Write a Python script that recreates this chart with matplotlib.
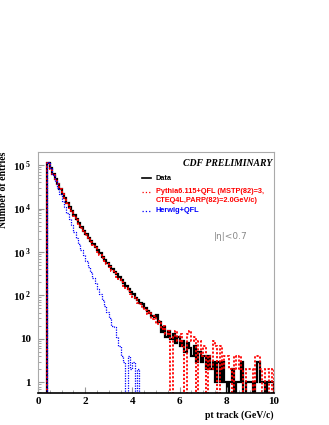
import numpy as np
import matplotlib
matplotlib.use("Agg")
import matplotlib.pyplot as plt
from matplotlib.lines import Line2D

# histogram binning (GeV/c)
pt_start = 0.4
bin_width = 0.1

# Data, bins from 0.4 to 10.0
data_counts = [112000, 84100, 63500, 48300, 37000, 28500, 22100, 17300, 13600, 10800,
               8610, 6920, 5600, 4560, 3740, 3090, 2570, 2150, 1800, 1520,
               1290, 1090, 925, 785, 668, 569, 485, 414, 354, 303,
               259, 222, 191, 164, 141, 122, 105, 89, 80, 66,
               62, 50, 44, 40, 33, 31, 35, 25, 14, 19,
               11, 15, 10, 13, 8, 11, 7, 9, 5, 8,
               6, 4, 7, 3, 5, 3, 4, 2, 4, 2,
               3, 1, 3, 1, 3, 1, 0, 1, 2, 0,
               1, 1, 3, 0, 1, 1, 1, 0, 1, 3,
               1, 1, 0, 1, 1, 1]

# Pythia6.115+QFL
pythia_counts = [110000, 83000, 62800, 47700, 36500, 28100, 21800, 17000, 13300, 10500,
                 8400, 6750, 5450, 4420, 3620, 2980, 2470, 2060, 1720, 1440,
                 1210, 1010, 850, 715, 605, 520, 440, 370, 325, 270,
                 235, 200, 168, 150, 124, 110, 92, 84, 66, 62,
                 50, 47, 37, 42, 28, 33, 22, 26, 17, 20,
                 13, 15, 0, 11, 15, 9, 13, 7, 0, 13,
                 15, 9, 11, 0, 9, 4, 7, 0, 4, 2,
                 9, 7, 0, 7, 2, 4, 4, 2, 0, 4,
                 2, 4, 2, 0, 2, 2, 2, 0, 4, 4,
                 2, 0, 2, 2, 0, 2]

# Herwig+QFL, bins from 0.4 to 4.4
herwig_counts = [120000, 85000, 60000, 42700, 30200, 21400, 15100, 10700, 7760, 5620,
                 4070, 2950, 2140, 1550, 1120, 830, 620, 457, 339, 251,
                 190, 141, 105, 79, 58, 42, 30, 20, 19, 11,
                 7, 4, 3, 0, 4, 2, 3, 0, 2, 0]

ytick_vals = [1, 10, 100, 1000, 10000, 100000]
ytick_labels = ["1", "10", r"$\mathbf{10^{\,2}}$", r"$\mathbf{10^{\,3}}$",
                r"$\mathbf{10^{\,4}}$", r"$\mathbf{10^{\,5}}$"]

plt.rcParams["mathtext.fontset"] = "custom"
plt.rcParams["mathtext.rm"] = "Liberation Serif"
plt.rcParams["mathtext.bf"] = "Liberation Serif:bold"

def edges(n):
    return pt_start + bin_width * np.arange(n + 1)

fig = plt.figure(figsize=(3.29, 4.25), dpi=100)
ax = fig.add_axes([0.1155, 0.0753, 0.7173, 0.5671])
ax.set_yscale("log")

ax.stairs(data_counts, edges(len(data_counts)), baseline=0, color="black", lw=1.6)
ax.stairs(pythia_counts, edges(len(pythia_counts)), baseline=0, color="#ff0000",
          lw=1.3, linestyle=(0, (1.2, 1.0)))
ax.stairs(herwig_counts, edges(len(herwig_counts)), baseline=0, color="#0000ff",
          lw=0.9, linestyle=(0, (1.0, 1.0)))

ax.set_xlim(0, 10)
ax.set_ylim(0.567, 2.0e5)

ax.set_xticks([0, 2, 4, 6, 8, 10])
ax.set_xticklabels(["0", "2", "4", "6", "8", "10"], fontfamily="Liberation Serif",
                   fontweight="bold", fontsize=8)
ax.set_xticks(np.arange(0, 10.01, 0.5), minor=True)
ax.set_yticks(ytick_vals)
ax.set_yticklabels(ytick_labels, fontfamily="Liberation Serif", fontweight="bold", fontsize=8)
ax.tick_params(axis="both", which="both", direction="in", color="#999999", top=False, right=False)
ax.tick_params(axis="x", which="major", length=4, pad=3)
ax.tick_params(axis="x", which="minor", length=2)
ax.tick_params(axis="y", which="major", length=4, pad=5)
ax.tick_params(axis="y", which="minor", length=2)

for s in ["left", "top", "right"]:
    ax.spines[s].set_color("#aaaaaa")
    ax.spines[s].set_linewidth(0.8)
ax.spines["bottom"].set_color("black")
ax.spines["bottom"].set_linewidth(1.2)

ax.set_ylabel("Number of entries", fontfamily="Liberation Serif", fontweight="bold",
              fontsize=7, loc="top")
ax.yaxis.set_label_coords(-0.127, 1.0)
ax.set_xlabel("pt track (GeV/c)", fontfamily="Liberation Serif", fontweight="bold",
              fontsize=7, loc="right", labelpad=3)

# legend block
W, H = 329.0, 425.0
def fx(px):
    return px / W
def fy(py):
    return 1 - py / H

fig.text(fx(272), fy(163), "CDF PRELIMINARY", ha="right", va="center",
         fontfamily="Liberation Serif", fontweight="bold", fontstyle="italic", fontsize=7)
legend_rows = [("Data", "black", "-", 178.3),
               ("Pythia6.115+QFL (MSTP(82)=3,", "#ff0000", ":", 191.7),
               ("Herwig+QFL", "#0000ff", ":", 210.7)]
for label, col, ls, ypx in legend_rows:
    fig.add_artist(Line2D([fx(142), fx(151)], [fy(ypx), fy(ypx)], color=col, ls=ls,
                          lw=1.2 if ls == "-" else 0.9))
    fig.text(fx(156), fy(ypx), label, ha="left", va="center", color=col,
             fontfamily="Liberation Sans", fontweight="bold", fontsize=5.3)
fig.text(fx(156), fy(200.7), "CTEQ4L,PARP(82)=2.0GeV/c)", ha="left", va="center",
         color="#ff0000", fontfamily="Liberation Sans", fontweight="bold", fontsize=5.3)
fig.text(fx(214), fy(236.7), "|\u03b7|<0.7", ha="left", va="center", color="#888888",
         fontfamily="DejaVu Sans", fontsize=6.5)

fig.savefig("out.png", dpi=100)
